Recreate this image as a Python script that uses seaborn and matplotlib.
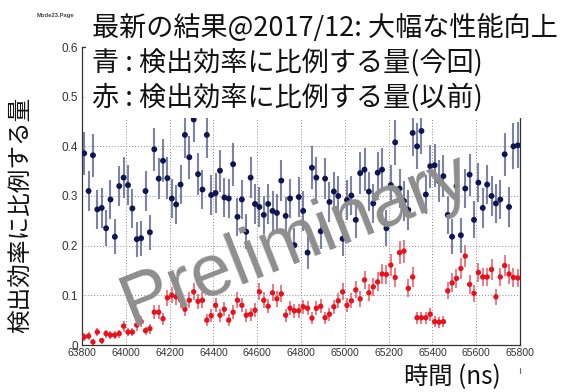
import numpy as np
import pandas as pd
import matplotlib
matplotlib.use("Agg")
import matplotlib.pyplot as plt
from matplotlib.patches import Rectangle
from matplotlib.lines import Line2D
from matplotlib.ticker import MultipleLocator, FixedLocator, FixedFormatter
import seaborn as sns

# ---- data: 20 ns bins from 63800 ns to 65800 ns ----
t_start = 63800
bin_width = 20

# current measurement (blue)
blue_eff = [
    0.386, 0.310, 0.382, 0.273, 0.276, 0.235, 0.293, 0.218, 0.320, 0.337,
    0.322, 0.275, 0.213, 0.215, 0.310, 0.227, 0.394, 0.335, 0.371, 0.336,
    0.295, 0.283, 0.323, 0.423, 0.378, 0.454, 0.344, 0.313, 0.423, 0.302,
    0.306, 0.351, 0.297, 0.295, 0.364, 0.258, 0.293, 0.228, 0.337, 0.284,
    0.278, 0.262, 0.284, 0.270, 0.266, 0.331, 0.260, 0.295, 0.201, 0.298,
    0.270, 0.186, 0.357, 0.337, 0.229, 0.335, 0.288, 0.309, 0.300, 0.214,
    0.292, 0.301, 0.252, 0.346, 0.353, 0.309, 0.285, 0.347, 0.353, 0.235,
    0.322, 0.408, 0.315, 0.290, 0.272, 0.427, 0.400, 0.431, 0.303, 0.360,
    0.362, 0.330, 0.340, 0.262, 0.218, 0.320, 0.221, 0.315, 0.343, 0.252,
    0.327, 0.276, 0.323, 0.300, 0.285, 0.293, 0.384, 0.278, 0.400, 0.402,
]
blue_err = [
    0.043, 0.040, 0.043, 0.040, 0.040, 0.036, 0.040, 0.035, 0.040, 0.042,
    0.040, 0.040, 0.035, 0.035, 0.040, 0.035, 0.043, 0.042, 0.043, 0.042,
    0.040, 0.040, 0.040, 0.046, 0.043, 0.046, 0.042, 0.040, 0.046, 0.040,
    0.040, 0.042, 0.040, 0.040, 0.043, 0.038, 0.040, 0.035, 0.042, 0.040,
    0.040, 0.038, 0.040, 0.040, 0.038, 0.042, 0.038, 0.040, 0.034, 0.040,
    0.040, 0.033, 0.043, 0.042, 0.035, 0.042, 0.040, 0.040, 0.040, 0.035,
    0.040, 0.040, 0.037, 0.042, 0.043, 0.040, 0.040, 0.042, 0.043, 0.036,
    0.040, 0.046, 0.040, 0.040, 0.040, 0.046, 0.046, 0.046, 0.040, 0.043,
    0.043, 0.042, 0.042, 0.038, 0.035, 0.040, 0.035, 0.040, 0.042, 0.037,
    0.040, 0.040, 0.040, 0.040, 0.040, 0.040, 0.043, 0.040, 0.046, 0.046,
]

# previous measurement (red)
red_eff = [
    0.016, 0.018, 0.006, 0.026, 0.009, 0.023, 0.020, 0.020, 0.023, 0.038,
    0.026, 0.026, 0.040, 0.047, 0.029, 0.033, 0.066, 0.066, 0.053, 0.095,
    0.100, 0.097, 0.091, 0.072, 0.090, 0.107, 0.088, 0.090, 0.050, 0.059,
    0.080, 0.060, 0.072, 0.050, 0.066, 0.090, 0.080, 0.060, 0.062, 0.070,
    0.107, 0.090, 0.078, 0.105, 0.093, 0.103, 0.060, 0.074, 0.069, 0.069,
    0.077, 0.074, 0.054, 0.074, 0.078, 0.055, 0.062, 0.077, 0.089, 0.107,
    0.080, 0.089, 0.111, 0.093, 0.131, 0.105, 0.117, 0.127, 0.143, 0.142,
    0.161, 0.136, 0.186, 0.189, 0.114, 0.137, 0.055, 0.055, 0.055, 0.062,
    0.047, 0.046, 0.047, 0.109, 0.125, 0.134, 0.154, 0.179, 0.122, 0.104,
    0.146, 0.137, 0.137, 0.152, 0.097, 0.137, 0.160, 0.143, 0.136, 0.135,
]
red_err = [
    0.008, 0.008, 0.006, 0.008, 0.006, 0.008, 0.008, 0.008, 0.008, 0.011,
    0.008, 0.008, 0.011, 0.011, 0.008, 0.010, 0.014, 0.014, 0.012, 0.016,
    0.016, 0.016, 0.016, 0.014, 0.016, 0.017, 0.015, 0.016, 0.012, 0.013,
    0.014, 0.013, 0.014, 0.012, 0.014, 0.016, 0.014, 0.013, 0.013, 0.014,
    0.017, 0.016, 0.014, 0.017, 0.016, 0.017, 0.013, 0.014, 0.014, 0.014,
    0.014, 0.014, 0.012, 0.014, 0.014, 0.012, 0.013, 0.014, 0.015, 0.017,
    0.014, 0.015, 0.017, 0.016, 0.019, 0.017, 0.018, 0.019, 0.020, 0.020,
    0.022, 0.019, 0.023, 0.023, 0.018, 0.020, 0.012, 0.012, 0.012, 0.013,
    0.011, 0.011, 0.011, 0.017, 0.019, 0.019, 0.021, 0.022, 0.019, 0.017,
    0.020, 0.019, 0.019, 0.021, 0.016, 0.019, 0.022, 0.020, 0.019, 0.019,
]

x_ticks = [63800, 64000, 64200, 64400, 64600, 64800, 65000, 65200, 65400, 65600, 65800]
y_ticks = [0.0, 0.1, 0.2, 0.3, 0.4, 0.5, 0.6]
y_tick_labels = ["0", "0.1", "0.2", "0.3", "0.4", "0.5", "0.6"]

title_lines = [
    "最新の結果@2017/12: 大幅な性能向上",
    "青 : 検出効率に比例する量(今回)",
    "赤 : 検出効率に比例する量(以前)",
]
y_label = "検出効率に比例する量"
x_label = "時間 (ns)"

# bin centres
time_ns = t_start + bin_width / 2 + bin_width * np.arange(len(blue_eff))
df_blue = pd.DataFrame({"time": time_ns, "eff": blue_eff, "err": blue_err})
df_red = pd.DataFrame({"time": time_ns, "eff": red_eff, "err": red_err})

sns.set_theme(style="white")
plt.rcParams["font.family"] = ["Liberation Sans", "DejaVu Sans"]

W, H = 568, 392
fig = plt.figure(figsize=(W / 100, H / 100), dpi=100)
fig.patch.set_facecolor("white")
ax = fig.add_axes([82 / W, 1 - 345 / H, 438 / W, 298 / H])
ax.set_facecolor("white")

# error bars (thin, lighter than the markers)
ax.errorbar(df_blue["time"], df_blue["eff"], yerr=df_blue["err"], xerr=bin_width / 2,
            fmt="none", ecolor="#7c83a6", elinewidth=1.5, capsize=0, zorder=2)
ax.errorbar(df_red["time"], df_red["eff"], yerr=df_red["err"], xerr=bin_width / 2,
            fmt="none", ecolor="#f07a82", elinewidth=1.4, capsize=0, zorder=2)

sns.scatterplot(data=df_blue, x="time", y="eff", ax=ax, color="#0d1552",
                s=18, marker="o", edgecolor="none", linewidth=0, zorder=3)
sns.scatterplot(data=df_red, x="time", y="eff", ax=ax, color="#e8111c",
                s=15, marker="o", edgecolor="none", linewidth=0, zorder=3)

ax.set_xlim(x_ticks[0], x_ticks[-1])
ax.set_ylim(y_ticks[0], y_ticks[-1])
ax.xaxis.set_major_locator(FixedLocator(x_ticks))
ax.set_xticklabels([str(v) for v in x_ticks])
ax.yaxis.set_major_locator(FixedLocator(y_ticks))
ax.yaxis.set_major_formatter(FixedFormatter(y_tick_labels))
ax.xaxis.set_minor_locator(MultipleLocator(40))
ax.yaxis.set_minor_locator(MultipleLocator(0.02))
ax.set_xlabel("")
ax.set_ylabel("")

ax.tick_params(axis="x", which="major", direction="in", length=6, width=0.8,
               color="#333333", labelsize=7.5, labelcolor="#333333", pad=2)
ax.tick_params(axis="x", which="minor", direction="in", length=3, width=0.6, color="#333333")
ax.tick_params(axis="y", which="major", direction="in", length=9, width=0.8,
               color="#333333", labelsize=8.5, labelcolor="#333333", pad=3)
ax.tick_params(axis="y", which="minor", direction="in", length=4.5, width=0.6, color="#333333")
ax.tick_params(top=False, right=False)

ax.grid(True, which="major", linestyle=(0, (1, 2)), color="#8a8a8a", linewidth=0.7)
ax.set_axisbelow(True)
for side in ["left", "bottom", "right", "top"]:
    ax.spines[side].set_visible(True)
    ax.spines[side].set_color("#333333")
    ax.spines[side].set_linewidth(0.9)

# watermark
ax.text(0.488, 0.352, "Preliminary", transform=ax.transAxes, rotation=21.5,
        rotation_mode="anchor", ha="center", va="center", fontsize=53,
        color="#8e8e8e", family="Liberation Sans", zorder=6)

# white block behind the header text
fig.add_artist(Rectangle((86 / W, 1 - 118 / H), 1, 1, transform=fig.transFigure,
                         facecolor="white", edgecolor="none", zorder=10))

jp = ["Noto Sans CJK JP", "DejaVu Sans"]
for line, yc in zip(title_lines, [28, 63, 97]):
    fig.text(92 / W, 1 - yc / H, line, ha="left", va="center", fontsize=19.5,
             family=jp, color="#111111", zorder=11)

fig.text(22 / W, 1 - 215 / H, y_label, rotation=90, ha="center", va="center",
         fontsize=17, family=jp, color="#111111", zorder=11)
fig.text(452 / W, 1 - 377 / H, x_label, ha="center", va="center",
         fontsize=17.5, family=jp, color="#111111", zorder=11)
fig.text(55 / W, 1 - 16 / H, "Mode23.Page", ha="center", va="center",
         fontsize=4.2, fontweight="bold", color="#444444", zorder=11)
fig.add_artist(Line2D([520 / W, 520 / W], [1 - 368 / H, 1 - 373 / H],
                      transform=fig.transFigure, color="#666666", lw=0.8))

fig.savefig("out.png", dpi=100, facecolor="white")
